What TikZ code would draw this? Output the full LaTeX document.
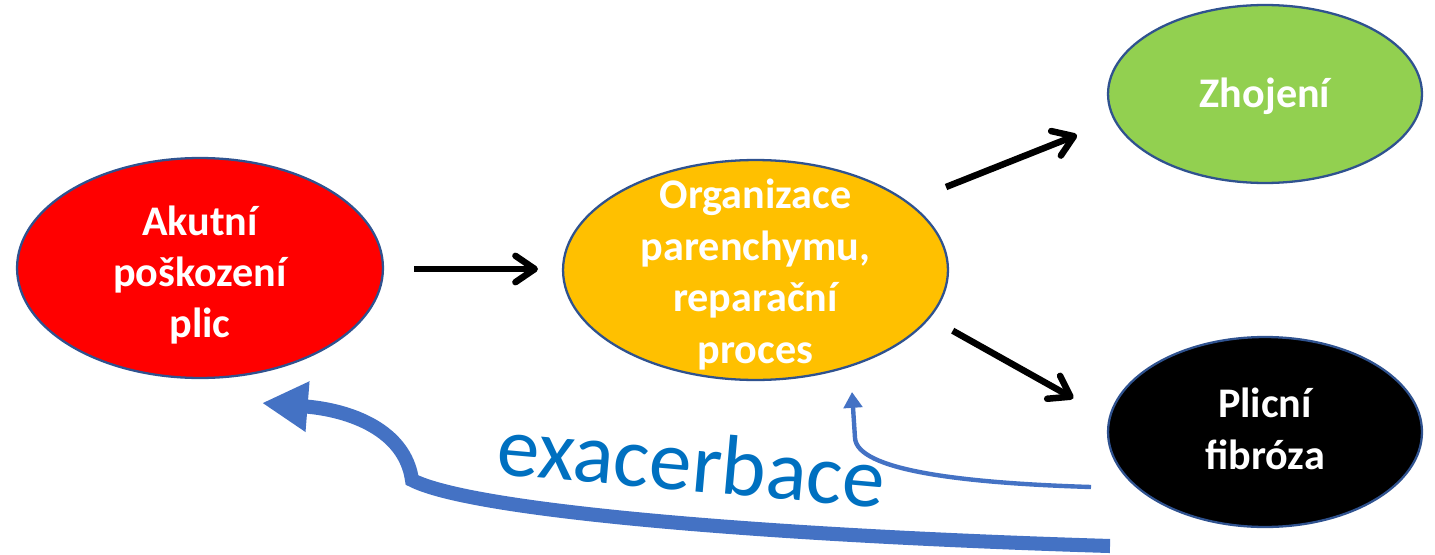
\documentclass[tikz,border=0pt]{standalone}
\usepackage{fontspec}
\setmainfont{Carlito}
\usetikzlibrary{shapes.geometric,arrows.meta,calc}
\definecolor{redfill}{HTML}{FF0000}
\definecolor{orgfill}{HTML}{FFC000}
\definecolor{grnfill}{HTML}{92D050}
\definecolor{outl}{HTML}{2F528F}
\definecolor{arrblue}{HTML}{4472C4}
\definecolor{txtblue}{HTML}{0070C0}
\begin{document}
\begin{tikzpicture}[x=0.02cm,y=-0.02cm,
  blob/.style={ellipse, draw=outl, line width=1.3pt, inner sep=0pt},
  blobtext/.style={text=white, align=center, inner sep=0pt,
    font=\fontsize{24}{29.3}\selectfont\bfseries},
  blk/.style={line width=3.7pt, -{Straight Barb[length=11pt,width=15pt,round]}},
  bigarr/.style={draw=arrblue, line width=8pt, -{Triangle[length=26pt,width=27pt]}},
  thinarr/.style={draw=arrblue, line width=2.5pt, -{Triangle[length=9pt,width=10.5pt]}},
  exactext/.style={text=txtblue, font=\fontsize{48.5}{52}\selectfont, inner sep=0pt}]
\useasboundingbox (0,0) rectangle (1435,554);

\node[blob, fill=redfill, minimum width=7.32cm, minimum height=4.4cm] (red) at (200,268) {};
\node[blob, fill=orgfill, minimum width=7.7cm, minimum height=4.4cm] (org) at (755.5,270) {};
\node[blob, fill=grnfill, minimum width=6.28cm, minimum height=3.56cm] (zh) at (1265,94) {};
\node[blob, fill=black, minimum width=6.28cm, minimum height=3.8cm] (fib) at (1265,432) {};

\node[blobtext] (redt) at (200,275) {Akutní\\poškození\\plic};
\node[blobtext] (orgt) at (755.5,274.5) {Organizace\\parenchymu,\\reparační\\proces};
\node[blobtext] (zht) at (1265,96) {Zhojení};
\node[blobtext] (fibt) at (1265,429) {Plicní\\fibróza};

\draw[blk] ($(red.center)+(214,1)$) -- ($(org.center)+(-217.5,-1)$);
\draw[blk] ($(org.center)+(190.5,-83)$) -- ($(zh.center)+(-188,41)$);
\draw[blk] ($(org.center)+(197.2,60.7)$) -- ($(fib.center)+(-191.7,-33.7)$);

\coordinate (thinstart) at (1091,487);
\coordinate (thintip) at (852,392);
\draw[thinarr] (thinstart) .. controls (960,483) and (857,470) .. (855,438) -- (thintip);

\coordinate (bigstart) at (1110,546);
\coordinate (bigtip) at (262,403);
\draw[bigarr] (bigstart) .. controls (750,535) and (470,510) .. (412,480)
  .. controls (405,430) and (350,410) .. (bigtip);

\node[exactext, rotate=-5, anchor=base] (exac) at (689,491) {exacerbace};
\end{tikzpicture}
\end{document}
